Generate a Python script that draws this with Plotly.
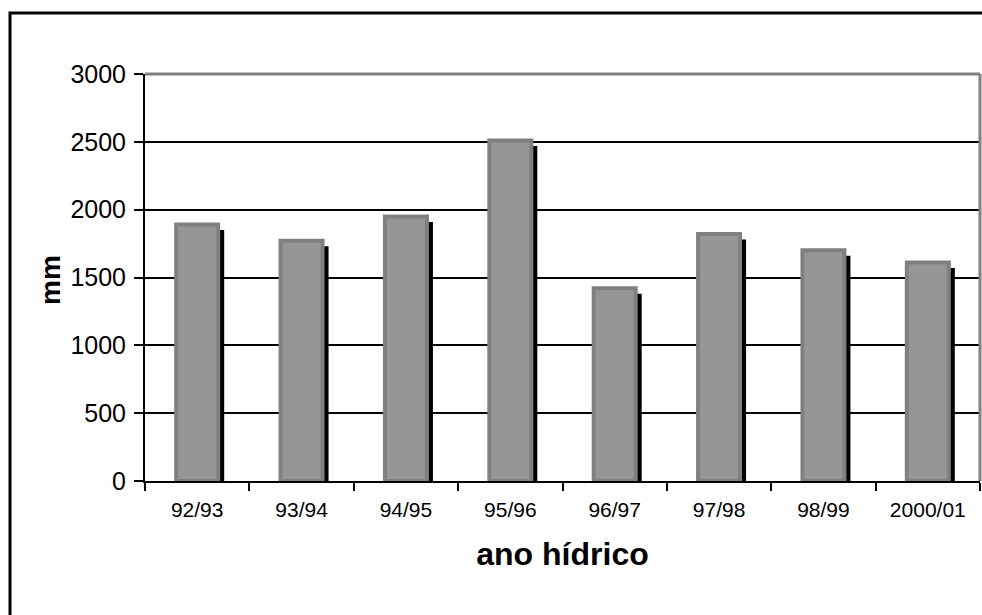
import plotly.graph_objects as go

# Annual rainfall per hydrological year
categories = ["92/93", "93/94", "94/95", "95/96", "96/97", "97/98", "98/99", "2000/01"]
rain_mm = [1890, 1770, 1950, 2510, 1420, 1820, 1700, 1610]
y_ticks = [0, 500, 1000, 1500, 2000, 2500, 3000]

W, H = 982, 615
ML, MR, MT, MB = 145, 2, 74, 134
plot_w = W - ML - MR
plot_h = H - MT - MB
y_max = 3000
units_per_px = y_max / plot_h
cat_px = plot_w / len(categories)

bar_width = 42 / cat_px
shadow_width = 46 / cat_px
shadow_dx = 4 / cat_px
shadow_drop = 5.5 * units_per_px

font = "Arial, 'Liberation Sans', sans-serif"


def px_x(px):
    return (px - ML) / plot_w


def px_y(px):
    return (H - MB - px) / plot_h


fig = go.Figure()

# drop shadow behind each column
fig.add_trace(go.Bar(
    x=categories,
    y=[v - shadow_drop for v in rain_mm],
    width=shadow_width,
    offset=-shadow_width / 2 + shadow_dx,
    marker=dict(color="black", line=dict(width=0)),
    hoverinfo="skip",
    showlegend=False,
))

# the columns themselves
fig.add_trace(go.Bar(
    x=categories,
    y=rain_mm,
    width=bar_width,
    offset=-bar_width / 2,
    marker=dict(color="#969696", line=dict(color="#808080", width=4)),
    showlegend=False,
))

fig.update_layout(
    width=W, height=H,
    margin=dict(l=ML, r=MR, t=MT, b=MB, pad=0),
    paper_bgcolor="white",
    plot_bgcolor="white",
    barmode="overlay",
    font=dict(family=font, color="black"),
    xaxis=dict(
        type="category",
        tickson="boundaries",
        ticks="outside", ticklen=8, tickwidth=2, tickcolor="black",
        showline=True, linecolor="black", linewidth=2,
        showgrid=False,
        tickfont=dict(size=21, family=font),
        ticklabelstandoff=9,
        title=dict(text="<b>ano hídrico</b>", font=dict(size=32, family=font), standoff=22),
    ),
    yaxis=dict(
        range=[0, y_max],
        tickvals=y_ticks,
        ticks="outside", ticklen=9, tickwidth=2, tickcolor="black",
        showline=True, linecolor="black", linewidth=2,
        showgrid=True, gridcolor="black", gridwidth=2,
        zeroline=False,
        tickfont=dict(size=25, family=font),
        ticklabelstandoff=3,
    ),
    annotations=[
        dict(text="<b>mm</b>", textangle=-90, showarrow=False,
             xref="paper", yref="paper", x=px_x(50), y=px_y(280),
             xanchor="center", yanchor="middle",
             font=dict(size=28, family=font, color="black")),
    ],
    shapes=[
        # gray frame of the plotting area (top and right)
        dict(type="line", xref="paper", yref="paper", x0=0, x1=1, y0=1, y1=1,
             line=dict(color="#808080", width=3), layer="above"),
        dict(type="line", xref="paper", yref="paper", x0=1, x1=1, y0=0, y1=1,
             line=dict(color="#808080", width=3), layer="above"),
        # outer chart border (right and bottom edges lie beyond the page)
        dict(type="rect", xref="paper", yref="paper",
             x0=px_x(10), x1=px_x(W + 5), y0=px_y(H + 5), y1=px_y(13),
             line=dict(color="black", width=3), layer="above"),
    ],
)

fig.write_html("out.html")
